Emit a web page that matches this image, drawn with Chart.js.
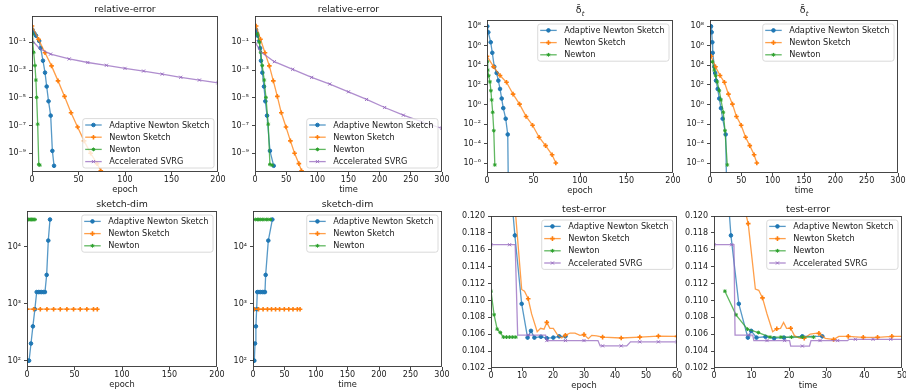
<!DOCTYPE html>
<html><head><meta charset="utf-8">
<script src="https://cdn.jsdelivr.net/npm/chart.js@4.4.1/dist/chart.umd.min.js"></script>
<style>
html,body{margin:0;padding:0;background:#fff;width:906px;height:390px;overflow:hidden;position:relative}
canvas{position:absolute}
</style></head><body>
<script>
// ---------------- tick labels ----------------
const epochTicks200 = [0, 50, 100, 150, 200];
const timeTicks300 = [0, 50, 100, 150, 200, 250, 300];
const epochTicks60 = [0, 10, 20, 30, 40, 50, 60];
const timeTicks50 = [0, 10, 20, 30, 40, 50];
const relErrTicks = [1e-9, 1e-7, 1e-5, 1e-3, 1e-1];
const deltaTicks = [1e-6, 1e-4, 1e-2, 1, 1e2, 1e4, 1e6, 1e8];
const sketchTicks = [1e2, 1e3, 1e4];
const testErrTicks = [0.102, 0.104, 0.106, 0.108, 0.110, 0.112, 0.114, 0.116, 0.118, 0.120];

// ---------------- iteration positions ----------------
const nsEpoch = [0, 7, 14, 21, 28, 35, 42, 49, 56, 63, 70, 74];
const nsTime = [1.8, 8.8, 16, 23, 29.4, 35.8, 42.2, 49.7, 56.8, 63.5, 70.4, 74.7];
const newtonEpoch = [0.3, 0.8, 1.8, 3.2, 4.2, 5, 6.1, 7.3, 8.4];
const newtonTime = [3.7, 6.9, 9.1, 11.6, 14.8, 17.5, 21.2, 23.9, 27.6];

// ---------------- relative-error ----------------
const ansEpochRel = [0.5, 2.5, 4.3, 7.7, 9.3, 11.8, 14, 15.8, 17.8, 20.1, 21.9, 23.7];
const ansTimeRel = [1.6, 3, 4.3, 6.9, 8.2, 9.6, 11.8, 14.4, 16.6, 19.3, 24, 30];
const relErrANS = [0.8, 0.45, 0.30, 0.126, 0.038, 4.7e-3, 6.5e-4, 6.5e-5, 5.6e-6, 5.2e-7, 1.5e-9, 1.26e-10];
const relErrNS = [1.5, 0.166, 0.0178, 2.0e-3, 1.66e-4, 1.26e-5, 8.3e-7, 7.9e-8, 7.9e-9, 1.0e-9, 1.8e-10, 5.6e-11];
const relErrNewton = [0.4, 0.1, 0.019, 2.1e-3, 1.9e-4, 1.07e-5, 1.26e-7, 1.6e-10, 1.4e-10];
const svrgEpochRel = [0, 8, 20, 40, 60, 80, 100, 120, 140, 160, 180, 200];
const relErrSVRGEpoch = [0.141, 0.0355, 0.0141, 6.3e-3, 3.5e-3, 2.2e-3, 1.32e-3, 8.5e-4, 5.1e-4, 3.0e-4, 1.9e-4, 1.2e-4];
const svrgTimeRel = [0, 9, 31, 60.5, 91, 120, 150, 179, 208, 238, 268, 300];
const relErrSVRGTime = [0.11, 0.021, 4.0e-3, 1.12e-3, 2.95e-4, 9.8e-5, 2.7e-5, 7.6e-6, 2.0e-6, 5.6e-7, 1.86e-7, 6.3e-8];

// ---------------- delta-bar ----------------
const ansEpochDelta = [0.3, 1.4, 4, 5.7, 7.8, 10.4, 12.2, 14, 15.8, 17.5, 20.1, 22.3, 23.4];
const ansTimeDelta = [1.6, 2.7, 3.7, 4.3, 6.9, 8.2, 9.6, 12.3, 14.8, 17.5, 20.2, 25, 27.5];
const deltaANS = [9.3e7, 2.3e7, 2.2e6, 1.86e5, 7.1e3, 1.6e3, 270, 38, 4.0, 0.42, 0.035, 8.7e-4, 1e-12];
const deltaNS = [8.3e4, 7.1e3, 890, 182, 11.2, 1.07, 0.060, 7.6e-3, 4.5e-4, 6.3e-5, 7.4e-6, 1.05e-6];
const deltaNewton = [2.3e4, 3.2e3, 850, 200, 25, 2.9, 0.16, 2.1e-3, 6.8e-7];

// ---------------- sketch-dim ----------------
const ansEpochSketch = [0.8, 2.2, 4.2, 6.2, 8.3, 10.2, 12, 13.7, 15.4, 17.2, 18.9, 20.7, 22.4, 24.2];
const ansTimeSketch = [1.0, 2.1, 3.2, 4.6, 5.8, 6.8, 9.5, 12.1, 14.8, 17.4, 19, 20.1, 24.3, 30.7];
const sketchANS = [100, 100, 200, 400, 800, 1600, 1600, 1600, 1600, 1600, 1600, 3200, 12800, 30000];
const sketchNS = [800, 800, 800, 800, 800, 800, 800, 800, 800, 800, 800, 800];
const sketchNewton = [30000, 30000, 30000, 30000, 30000, 30000, 30000, 30000, 30000];

// ---------------- test-error ----------------
const ansEpochTest = [6, 7.7, 9.9, 11.8, 12.9, 14, 16.1, 18, 20.1, 22, 24];
const ansTimeTest = [3.3, 4.5, 6.6, 9, 9.9, 11.3, 13.7, 16, 18.6, 23.5, 28.8];
const testANS = [0.125, 0.1177, 0.1096, 0.1056, 0.1064, 0.1056, 0.1057, 0.10553, 0.1056, 0.10575, 0.10575];
const nsEpochTest = [6, 9.9, 10.8, 12, 13.1, 14.9, 16, 17.1, 18, 19, 20.1, 21.4, 22.8, 24, 25.5, 27.1, 28.7, 30, 31.4, 32.5, 34.1, 36, 42, 48, 54, 60];
const testNSEpoch = [0.129, 0.1113, 0.1111, 0.1102, 0.1084, 0.1063, 0.1067, 0.1066, 0.1074, 0.1067, 0.1067, 0.10595, 0.10555, 0.10587, 0.10614, 0.10614, 0.10587, 0.10595, 0.10547, 0.10587, 0.1058, 0.10566, 0.10555, 0.10566, 0.10578, 0.10575];
const nsTimeTest = [5.3, 9.1, 11, 11.9, 12.9, 14.1, 15.6, 16.7, 17.7, 18.5, 19.3, 20.4, 21.4, 22.7, 24, 25.6, 27, 27.9, 29.6, 31.8, 33.2, 35.7, 39.7, 43.5, 47.3, 50];
const testNSTime = [0.126, 0.1191, 0.11135, 0.1112, 0.1103, 0.1084, 0.1063, 0.10665, 0.1067, 0.1074, 0.1067, 0.1067, 0.10583, 0.10555, 0.10553, 0.10602, 0.1061, 0.1061, 0.10551, 0.10538, 0.10575, 0.10575, 0.10563, 0.10563, 0.10575, 0.10575];
const newtonEpochTest = [0, 1, 2, 3, 4, 5, 6, 7, 8];
const newtonTimeTest = [2.9, 5.85, 8.9, 11.8, 14.9, 17.8, 20.6, 23.5, 26.5];
const testNewton = [0.1111, 0.1083, 0.1066, 0.1062, 0.10566, 0.10566, 0.10566, 0.10566, 0.10566];
const svrgEpochTest = [0, 6, 7.8, 8.6, 12, 17.6, 18, 24, 30, 34.5, 35.2, 36, 42, 43.8, 45, 48, 54, 60];
const testSVRGEpoch = [0.1166, 0.1166, 0.1166, 0.1059, 0.1059, 0.1059, 0.10525, 0.10525, 0.10525, 0.10525, 0.10462, 0.10462, 0.10462, 0.10462, 0.1051, 0.1051, 0.1051, 0.1051];
const svrgTimeTest = [0, 4.7, 5.3, 5.6, 9.4, 10.3, 10.6, 14.1, 18.8, 20.1, 20.4, 23.5, 25.4, 25.8, 28.2, 32.9, 35.5, 36, 37.6, 42.3, 47, 50];
const testSVRGTime = [0.1166, 0.1166, 0.1166, 0.1059, 0.1059, 0.1059, 0.10525, 0.10525, 0.10525, 0.10525, 0.1046, 0.1046, 0.1046, 0.10525, 0.10525, 0.10525, 0.10525, 0.1054, 0.1054, 0.1054, 0.1054, 0.1054];

// ================= styling / drawing =================
const FONT = "'DejaVu Sans', sans-serif";
const TXT = '#1a1a1a';
const AX = '#333';
function rgba(hex, a) {
  const n = parseInt(hex.slice(1), 16);
  return `rgba(${(n >> 16) & 255},${(n >> 8) & 255},${n & 255},${a})`;
}
const STY = {
  ans: {label: 'Adaptive Newton Sketch', color: '#1f77b4', ps: 'circle', r: 1.8, bw: 1},
  ns: {label: 'Newton Sketch', color: '#ff7f0e', ps: 'cross', r: 2.3, bw: 1.6},
  newton: {label: 'Newton', color: '#2ca02c', ps: 'star', r: 1.9, bw: 1},
  svrg: {label: 'Accelerated SVRG', color: '#9467bd', ps: 'crossRot', r: 2.2, bw: 0.9}
};
function ds(key, xs, ys, marks) {
  const s = STY[key];
  return {
    label: s.label, _key: key,
    data: xs.map((x, i) => ({x: x, y: ys[i]})),
    borderColor: rgba(s.color, 0.75), borderWidth: 1.3,
    pointStyle: s.ps,
    pointRadius: marks ? (c => marks.includes(c.dataIndex) ? s.r : 0) : s.r,
    pointHoverRadius: 0,
    pointBackgroundColor: s.color, pointBorderColor: s.color, pointBorderWidth: s.bw,
    tension: 0
  };
}
const SUP = {'-': '\u207B', '0': '\u2070', '1': '\u00B9', '2': '\u00B2', '3': '\u00B3', '4': '\u2074', '5': '\u2075', '6': '\u2076', '7': '\u2077', '8': '\u2078', '9': '\u2079'};
const fmtPow = v => '10' + String(Math.round(Math.log10(v))).split('').map(c => SUP[c]).join('');
const fmtTest = v => v.toFixed(3);

const panels = [
  {L: 32, T: 16, R: 218, B: 172, title: 'relative-error', xLabel: 'epoch', xMax: 200, xTicks: epochTicks200,
   yType: 'logarithmic', yMin: 4.5e-11, yMax: 7.85, yTicks: relErrTicks, fmt: fmtPow, loc: 'lower right',
   sets: () => [ds('ans', ansEpochRel, relErrANS), ds('ns', nsEpoch, relErrNS), ds('newton', newtonEpoch, relErrNewton),
                ds('svrg', svrgEpochRel, relErrSVRGEpoch, [0, 2, 3, 4, 5, 6, 7, 8, 9, 10, 11])]},
  {L: 255, T: 16, R: 442, B: 172, title: 'relative-error', xLabel: 'time', xMax: 300, xTicks: timeTicks300,
   yType: 'logarithmic', yMin: 4.5e-11, yMax: 7.85, yTicks: relErrTicks, fmt: fmtPow, loc: 'lower right',
   sets: () => [ds('ans', ansTimeRel, relErrANS), ds('ns', nsTime, relErrNS), ds('newton', newtonTime, relErrNewton),
                ds('svrg', svrgTimeRel, relErrSVRGTime, [0, 2, 3, 4, 5, 6, 7, 8, 9, 10, 11])]},
  {L: 487, T: 20, R: 673, B: 173, title: 'delta', xLabel: 'epoch', xMax: 200, xTicks: epochTicks200,
   yType: 'logarithmic', yMin: 1.02e-7, yMax: 4.1e8, yTicks: deltaTicks, fmt: fmtPow, loc: 'upper right',
   sets: () => [ds('ans', ansEpochDelta, deltaANS), ds('ns', nsEpoch, deltaNS), ds('newton', newtonEpoch, deltaNewton)]},
  {L: 710, T: 20, R: 898, B: 173, title: 'delta', xLabel: 'time', xMax: 300, xTicks: timeTicks300,
   yType: 'logarithmic', yMin: 1.02e-7, yMax: 4.1e8, yTicks: deltaTicks, fmt: fmtPow, loc: 'upper right',
   sets: () => [ds('ans', ansTimeDelta, deltaANS), ds('ns', nsTime, deltaNS), ds('newton', newtonTime, deltaNewton)]},
  {L: 27, T: 211, R: 217, B: 367, title: 'sketch-dim', xLabel: 'epoch', xMax: 200, xTicks: epochTicks200,
   yType: 'logarithmic', yMin: 77.4, yMax: 42300, yTicks: sketchTicks, fmt: fmtPow, loc: 'upper right',
   sets: () => [ds('ans', ansEpochSketch, sketchANS), ds('ns', nsEpoch, sketchNS), ds('newton', newtonEpoch, sketchNewton)]},
  {L: 253, T: 211, R: 442, B: 367, title: 'sketch-dim', xLabel: 'time', xMax: 300, xTicks: timeTicks300,
   yType: 'logarithmic', yMin: 77.4, yMax: 42300, yTicks: sketchTicks, fmt: fmtPow, loc: 'upper right',
   sets: () => [ds('ans', ansTimeSketch, sketchANS), ds('ns', nsTime, sketchNS), ds('newton', newtonTime, sketchNewton)]},
  {L: 491, T: 216, R: 677, B: 368, title: 'test-error', xLabel: 'epoch', xMax: 60, xTicks: epochTicks60,
   yType: 'linear', yMin: 0.102, yMax: 0.120, yTicks: testErrTicks, fmt: fmtTest, loc: 'upper right',
   sets: () => [ds('ans', ansEpochTest, testANS), ds('ns', nsEpochTest, testNSEpoch, [0, 3, 8, 13, 17, 21, 22, 23, 24, 25]),
                ds('newton', newtonEpochTest, testNewton), ds('svrg', svrgEpochTest, testSVRGEpoch, [0, 1, 4, 6, 7, 8, 11, 12, 15, 16, 17])]},
  {L: 714, T: 216, R: 902, B: 368, title: 'test-error', xLabel: 'time', xMax: 50, xTicks: timeTicks50,
   yType: 'linear', yMin: 0.102, yMax: 0.120, yTicks: testErrTicks, fmt: fmtTest, loc: 'upper right',
   sets: () => [ds('ans', ansTimeTest, testANS), ds('ns', nsTimeTest, testNSTime, [0, 1, 4, 7, 11, 14, 17, 19, 21, 22, 23, 24]),
                ds('newton', newtonTimeTest, testNewton), ds('svrg', svrgTimeTest, testSVRGTime, [0, 1, 4, 7, 8, 11, 14, 15, 18, 19, 20])]}
];

function marker(ctx, s, x, y) {
  ctx.fillStyle = s.color; ctx.strokeStyle = s.color; ctx.lineWidth = s.bw;
  if (Chart.helpers && Chart.helpers.drawPoint) {
    Chart.helpers.drawPoint(ctx, {pointStyle: s.ps, radius: s.r, borderWidth: s.bw, rotation: 0}, x, y);
  } else {
    ctx.beginPath(); ctx.arc(x, y, s.r, 0, Math.PI * 2); ctx.fill();
  }
}

const mplDeco = {
  id: 'mplDeco',
  afterDatasetsDraw(chart, args, o) {
    const ctx = chart.ctx, a = chart.chartArea;
    ctx.save();
    // frame
    ctx.strokeStyle = AX; ctx.lineWidth = 0.9;
    ctx.strokeRect(a.left + 0.5, a.top + 0.5, a.right - a.left - 1, a.bottom - a.top - 1);
    // title
    const cx = (a.left + a.right) / 2;
    ctx.fillStyle = TXT; ctx.textBaseline = 'alphabetic';
    if (o.title === 'delta') {
      ctx.font = `9.4px ${FONT}`;
      const main = '\u03B4\u0304';
      const wm = ctx.measureText('\u03B4').width;
      ctx.font = `italic 6.8px ${FONT}`;
      const ws = ctx.measureText('t').width;
      const x0 = cx - (wm + ws) / 2;
      ctx.textAlign = 'left';
      ctx.font = `9.4px ${FONT}`;
      ctx.fillText(main, x0, a.top - 7);
      ctx.font = `italic 6.8px ${FONT}`;
      ctx.fillText('t', x0 + wm + 0.3, a.top - 4.5);
    } else {
      ctx.font = `9.4px ${FONT}`; ctx.textAlign = 'center';
      ctx.fillText(o.title, cx, a.top - 4);
    }
    // legend
    const fs = 8.2;
    ctx.font = `${fs}px ${FONT}`;
    const items = chart.data.datasets.map(d => STY[d._key]);
    const tw = Math.max(...items.map(s => ctx.measureText(s.label).width));
    const rowH = 12.2;
    const bw = 26.5 + tw + 4.5, bh = 12.8 + rowH * (items.length - 1);
    const bx = a.right - 4 - bw;
    const by = o.loc === 'lower right' ? a.bottom - 4 - bh : a.top + 4;
    ctx.beginPath();
    if (ctx.roundRect) ctx.roundRect(bx, by, bw, bh, 2.5); else ctx.rect(bx, by, bw, bh);
    ctx.fillStyle = 'rgba(255,255,255,0.8)'; ctx.fill();
    ctx.strokeStyle = '#d0d0d0'; ctx.lineWidth = 0.8; ctx.stroke();
    items.forEach((s, i) => {
      const cy = by + 6.4 + i * rowH;
      ctx.strokeStyle = rgba(s.color, 0.75); ctx.lineWidth = 1.3;
      ctx.beginPath(); ctx.moveTo(bx + 2.5, cy); ctx.lineTo(bx + 19, cy); ctx.stroke();
      marker(ctx, s, bx + 10.75, cy);
      ctx.fillStyle = TXT; ctx.font = `${fs}px ${FONT}`;
      ctx.textAlign = 'left'; ctx.textBaseline = 'middle';
      ctx.fillText(s.label, bx + 26.5, cy + 0.5);
    });
    ctx.restore();
  }
};

const YW = 30, PT = 22, PR = 12, XH = 23;
panels.forEach(p => {
  const cv = document.createElement('canvas');
  const w = YW + (p.R - p.L) + PR, h = PT + (p.B - p.T) + XH;
  cv.width = w; cv.height = h;
  cv.style.left = (p.L - YW) + 'px'; cv.style.top = (p.T - PT) + 'px';
  cv.style.width = w + 'px'; cv.style.height = h + 'px';
  document.body.appendChild(cv);
  const sets = p.sets();
  sets.forEach((d, i) => { d.order = sets.length - i; });
  const tickFont = {family: FONT, size: 8};
  const grid = {display: true, drawOnChartArea: false, drawTicks: true, tickLength: 3, color: AX, lineWidth: 0.9};
  new Chart(cv, {
    type: 'line',
    data: {datasets: sets},
    options: {
      responsive: false, animation: false, devicePixelRatio: 1,
      events: [],
      layout: {padding: {left: 0, top: PT, right: PR, bottom: 0}},
      plugins: {legend: {display: false}, title: {display: false}, tooltip: {enabled: false},
                mplDeco: {title: p.title, loc: p.loc}},
      scales: {
        x: {
          type: 'linear', min: 0, max: p.xMax,
          afterBuildTicks: s => { s.ticks = p.xTicks.map(v => ({value: v})); },
          afterFit: s => { s.height = XH; },
          ticks: {font: tickFont, color: TXT, padding: 0, maxRotation: 0, autoSkip: false, callback: v => String(v)},
          grid: grid, border: {display: false},
          title: {display: true, text: p.xLabel, font: {family: FONT, size: 8.3}, color: TXT, padding: {top: 0, bottom: 0}}
        },
        y: {
          type: p.yType, min: p.yMin, max: p.yMax,
          afterBuildTicks: s => { s.ticks = p.yTicks.map(v => ({value: v})); },
          afterFit: s => { s.width = YW; },
          ticks: {font: tickFont, color: TXT, padding: 3, autoSkip: false, callback: v => p.fmt(v)},
          grid: grid, border: {display: false}
        }
      }
    },
    plugins: [mplDeco]
  });
});
</script>
</body></html>
